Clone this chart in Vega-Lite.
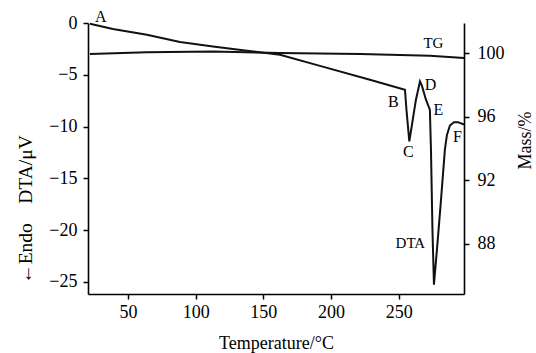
{
  "$schema": "https://vega.github.io/schema/vega-lite/v6.json",
  "width": 376,
  "height": 271,
  "autosize": {"type": "none"},
  "padding": {"left": 88, "top": 23, "right": 72, "bottom": 59},
  "background": "white",
  "config": {
    "view": {"stroke": null},
    "font": "Liberation Serif",
    "axis": {
      "grid": false,
      "domainColor": "black",
      "domainWidth": 1.6,
      "tickColor": "black",
      "tickWidth": 1.5,
      "tickSize": 5,
      "labelFont": "Liberation Serif",
      "labelFontSize": 18,
      "labelColor": "black",
      "titleFont": "Liberation Serif",
      "titleFontSize": 18,
      "titleFontWeight": "normal",
      "titleColor": "black"
    }
  },
  "datasets": {
    "dta": [
      {"T": 21.9, "v": -0.07},
      {"T": 38.9, "v": -0.58},
      {"T": 64.0, "v": -1.13},
      {"T": 88.4, "v": -1.83},
      {"T": 112.8, "v": -2.26},
      {"T": 137.9, "v": -2.67},
      {"T": 162.3, "v": -3.06},
      {"T": 191.8, "v": -4.14},
      {"T": 228.7, "v": -5.47},
      {"T": 254.6, "v": -6.44},
      {"T": 255.7, "v": -8.37},
      {"T": 257.8, "v": -11.43},
      {"T": 259.8, "v": -9.8},
      {"T": 262.7, "v": -7.4},
      {"T": 265.7, "v": -5.64},
      {"T": 267.1, "v": -6.05},
      {"T": 270.1, "v": -7.4},
      {"T": 273.0, "v": -8.37},
      {"T": 273.8, "v": -12.2},
      {"T": 274.9, "v": -19.95},
      {"T": 276.0, "v": -25.26},
      {"T": 278.2, "v": -21.9},
      {"T": 281.2, "v": -17.1},
      {"T": 284.1, "v": -12.2},
      {"T": 285.6, "v": -10.8},
      {"T": 287.8, "v": -9.9},
      {"T": 290.8, "v": -9.57},
      {"T": 293.7, "v": -9.57},
      {"T": 298.2, "v": -9.8}
    ],
    "tg": [
      {"T": 21.9, "m": 99.95},
      {"T": 64.0, "m": 100.05},
      {"T": 112.8, "m": 100.1},
      {"T": 162.3, "m": 100.01},
      {"T": 221.5, "m": 99.95},
      {"T": 273.0, "m": 99.84},
      {"T": 298.2, "m": 99.7}
    ],
    "labels": [
      {"T": 30.0, "v": 0.61, "label": "A", "size": 16},
      {"T": 275.6, "v": -1.9, "label": "TG", "size": 15},
      {"T": 246.0, "v": -7.6, "label": "B", "size": 16},
      {"T": 257.1, "v": -12.43, "label": "C", "size": 16},
      {"T": 273.4, "v": -5.96, "label": "D", "size": 16},
      {"T": 279.3, "v": -8.38, "label": "E", "size": 16},
      {"T": 293.3, "v": -10.99, "label": "F", "size": 16},
      {"T": 258.6, "v": -21.2, "label": "DTA", "size": 15}
    ]
  },
  "layer": [
    {
      "layer": [
        {
          "data": {"name": "dta"},
          "mark": {"type": "line", "color": "#111111", "strokeWidth": 2, "clip": false},
          "encoding": {
            "x": {
              "field": "T", "type": "quantitative",
              "scale": {"domain": [20.5, 298.2], "nice": false, "zero": false},
              "axis": {
                "values": [50, 100, 150, 200, 250],
                "title": "Temperature/°C",
                "labelPadding": 4,
                "titleBaseline": "alphabetic",
                "titleY": 54
              }
            },
            "y": {
              "field": "v", "type": "quantitative",
              "scale": {"domain": [-26.16, 0], "nice": false, "zero": false},
              "axis": {
                "orient": "left",
                "values": [0, -5, -10, -15, -20, -25],
                "title": "\u2190\ufe0eEndo\u00a0\u00a0\u00a0\u00a0DTA/\u03bcV",
                "titleFontSize": 19.5,
                "labelPadding": 6,
                "titleAngle": 270,
                "titleAlign": "center",
                "titleBaseline": "middle",
                "titleX": -63,
                "titleY": 186
              }
            }
          }
        },
        {
          "data": {"name": "labels"},
          "mark": {"type": "text", "color": "black", "font": "Liberation Serif", "baseline": "middle", "align": "center", "clip": false},
          "encoding": {
            "x": {"field": "T", "type": "quantitative"},
            "y": {"field": "v", "type": "quantitative"},
            "text": {"field": "label"},
            "size": {"field": "size", "type": "quantitative", "scale": null}
          }
        }
      ]
    },
    {
      "data": {"name": "tg"},
      "mark": {"type": "line", "color": "#111111", "strokeWidth": 2, "clip": false},
      "encoding": {
        "x": {"field": "T", "type": "quantitative"},
        "y": {
          "field": "m", "type": "quantitative",
          "scale": {"domain": [84.83, 101.9], "nice": false, "zero": false},
          "axis": {
            "orient": "right",
            "values": [88, 92, 96, 100],
            "title": "Mass/%",
            "labelPadding": 8,
            "titleAngle": 270,
            "titleAlign": "center",
            "titleBaseline": "middle",
            "titleX": 61,
            "titleY": 117
          }
        }
      }
    }
  ],
  "resolve": {"scale": {"y": "independent"}}
}
